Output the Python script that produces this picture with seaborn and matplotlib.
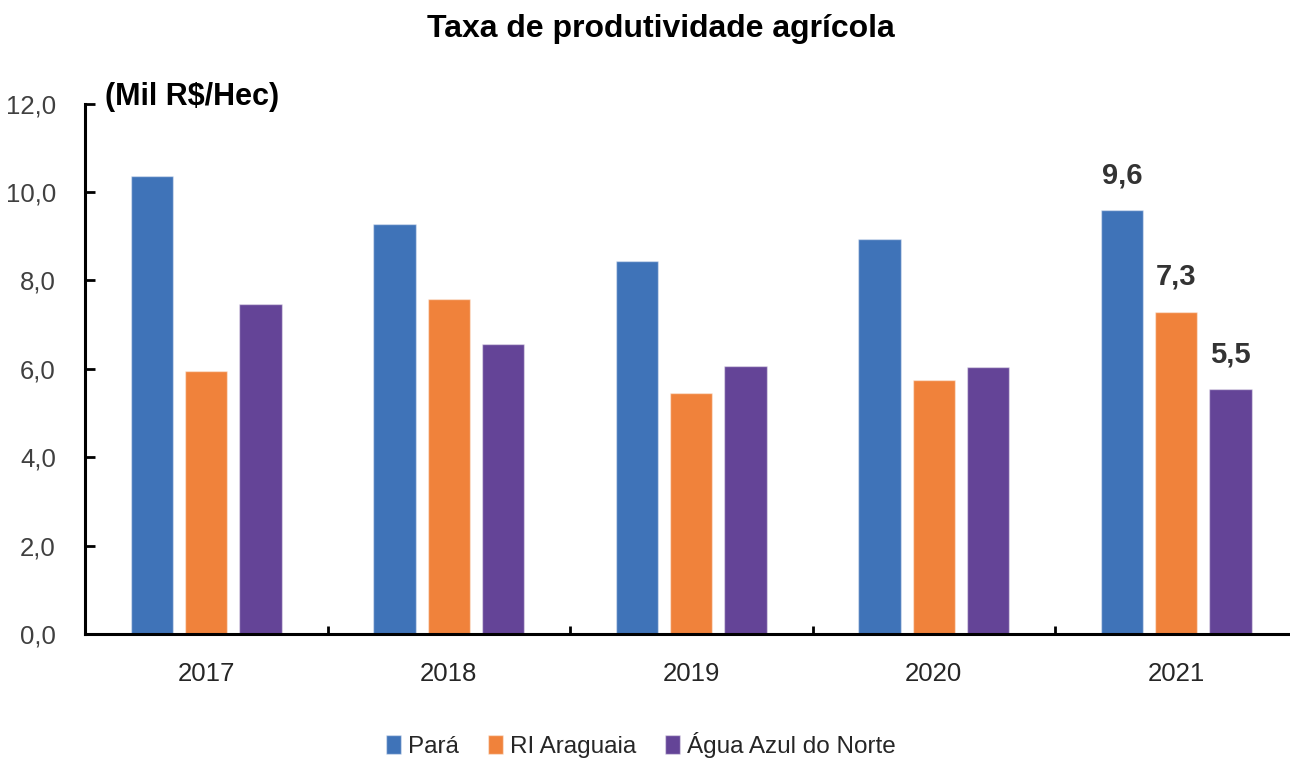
import matplotlib
matplotlib.use("Agg")
import matplotlib.pyplot as plt
from matplotlib import font_manager
from matplotlib.ticker import FixedLocator, FuncFormatter
import pandas as pd
import seaborn as sns

# data
years = ["2017", "2018", "2019", "2020", "2021"]
para = [10.37, 9.27, 8.45, 8.94, 9.59]
ri_araguaia = [5.94, 7.59, 5.45, 5.74, 7.29]
agua_azul = [7.46, 6.56, 6.07, 6.03, 5.54]
series_names = ["Pará", "RI Araguaia", "Água Azul do Norte"]
colors = ["#3F73B8", "#F0823B", "#644497"]


def pick_font(candidates):
    for name in candidates:
        try:
            font_manager.findfont(name, fallback_to_default=False)
            return name
        except Exception:
            continue
    return "DejaVu Sans"


sns.set_theme(style="white")
font = pick_font(["Liberation Sans Narrow", "Liberation Sans", "Roboto"])
plt.rcParams["font.family"] = [font, "DejaVu Sans"]

df = pd.DataFrame({
    "ano": years * 3,
    "valor": para + ri_araguaia + agua_azul,
    "serie": [series_names[0]] * 5 + [series_names[1]] * 5 + [series_names[2]] * 5,
})

fig = plt.figure(figsize=(12.9, 7.59), dpi=100)
ax = fig.add_axes([85 / 1290, 125 / 759, 1212.5 / 1290, 530.4 / 759])

sns.barplot(data=df, x="ano", y="valor", hue="serie", palette=colors,
            width=0.67, gap=0.22, edgecolor=(1, 1, 1, 0.45), linewidth=1,
            saturation=1, ax=ax, legend=True)

ax.set_xlim(-0.5, 4.5)
ax.set_ylim(0, 12)
ax.set_xlabel("")
ax.set_ylabel("")

for side in ["top", "right"]:
    ax.spines[side].set_visible(False)
for side in ["left", "bottom"]:
    ax.spines[side].set_color("black")
    ax.spines[side].set_linewidth(2.2)

ax.set_yticks([0, 2, 4, 6, 8, 10, 12])
ax.yaxis.set_major_formatter(FuncFormatter(lambda v, p: f"{v:.1f}".replace(".", ",")))
ax.tick_params(axis="y", direction="in", length=7, width=2, color="black",
               labelsize=18.5, labelcolor="#404040", pad=21, left=True)
ax.tick_params(axis="x", which="major", length=0, labelsize=18.5,
               labelcolor="#262626", pad=20)
ax.xaxis.set_minor_locator(FixedLocator([0.5, 1.5, 2.5, 3.5]))
ax.tick_params(axis="x", which="minor", direction="in", length=6, width=2,
               color="black", bottom=True)

# labels only on the 2021 bars
for container, vals in zip(ax.containers, [para, ri_araguaia, agua_azul]):
    labels = [""] * 4 + [f"{vals[-1]:.1f}".replace(".", ",")]
    ax.bar_label(container, labels=labels, padding=15, fontsize=21,
                 fontweight="bold", color="#333333")

handles, labels = ax.get_legend_handles_labels()
ax.get_legend().remove()
fig.legend(handles, labels, loc="center", bbox_to_anchor=(641 / 1290, 1 - 745 / 759),
           ncol=3, frameon=False, fontsize=17.5, handlelength=0.6, handleheight=0.8,
           handletextpad=0.3, columnspacing=1.2, labelcolor="#262626")

fig.text(661 / 1290, 1 - 29 / 759, "Taxa de produtividade agrícola", ha="center",
         va="center", fontsize=23, fontweight="bold", color="black")
fig.text(105 / 1290, 1 - 97 / 759, "(Mil R$/Hec)", ha="left", va="center",
         fontsize=22, fontweight="bold", color="black")

fig.savefig("out.png", dpi=100)
